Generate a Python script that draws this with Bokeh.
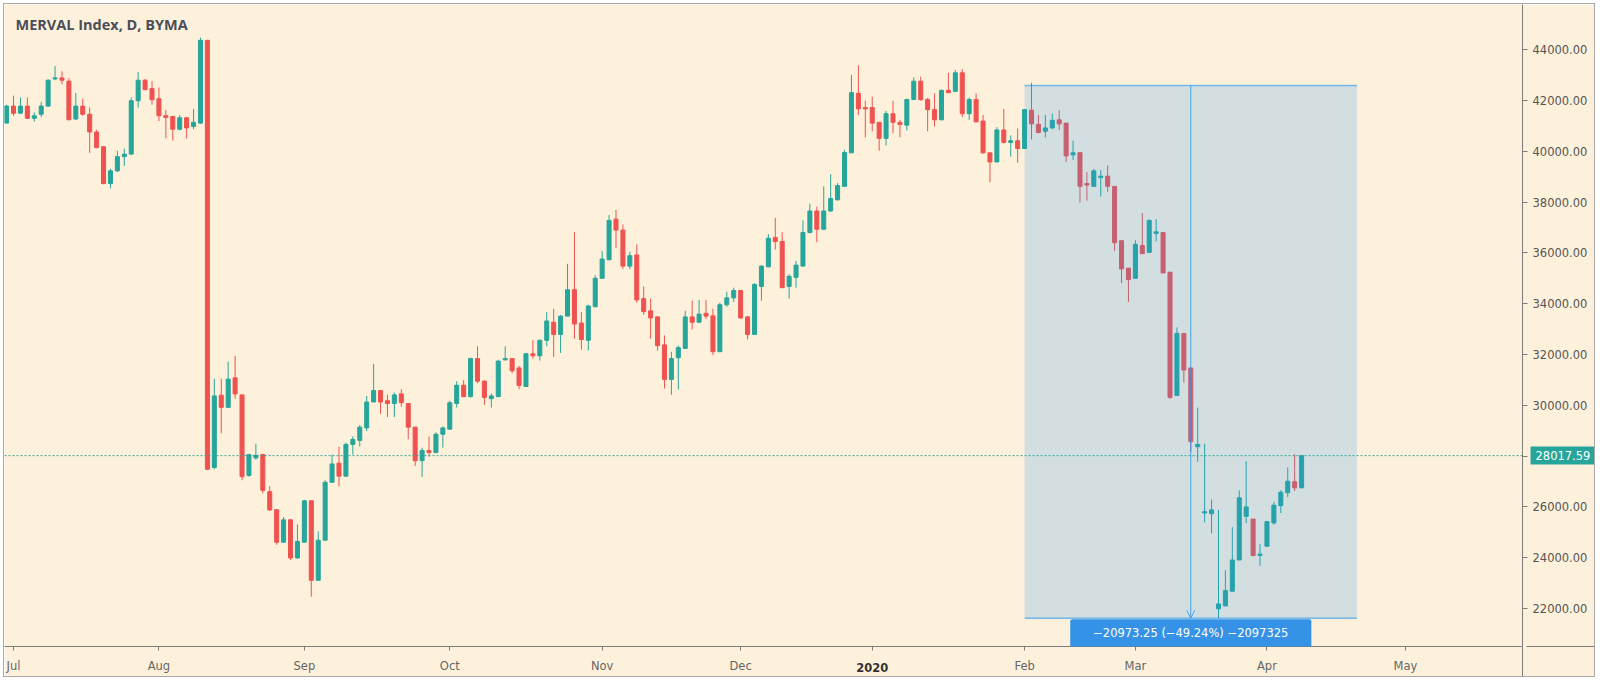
from bokeh.plotting import figure
from bokeh.models import (Range1d, FixedTicker, PrintfTickFormatter, Span, Label,
                          Arrow, OpenHead, ColumnDataSource, LinearAxis)
from bokeh.embed import file_html
from bokeh.resources import INLINE

# ---------------- data ----------------
TITLE = "MERVAL Index, D, BYMA"

opens = [41110, 41780, 41500, 41780, 41300, 41460, 41780, 42850, 42890, 42760,
         41270, 41780, 41460, 40760, 40180, 38730, 39230, 39790, 39890, 41990,
         42800, 42470, 42070, 41400, 41370, 40870, 41320, 40980, 41110, 44370,
         27550, 30400, 29920, 31080, 30410, 27240, 27930, 28060, 26600, 25890,
         24610, 25490, 23990, 24610, 26240, 23110, 24690, 26970, 27720, 27210,
         28460, 28620, 29110, 30130, 30580, 30180, 30070, 30450, 30070, 29140,
         27820, 28220, 28140, 28860, 29060, 30070, 30790, 30340, 31840, 30950,
         30260, 30340, 31790, 31840, 31470, 30740, 32030, 31950, 32560, 33270,
         32790, 33510, 34550, 33240, 32560, 33880, 35000, 35730, 37330, 36900,
         35480, 35920, 34200, 33720, 33480, 32380, 31020, 31870, 32240, 33480,
         33270, 33620, 33520, 32110, 33960, 34230, 34520, 33480, 32790, 34680,
         35450, 36610, 36450, 34680, 35040, 35480, 36800, 37650, 36930, 37650,
         38090, 38620, 39940, 42280, 41720, 41720, 41140, 40510, 41480, 41140,
         41030, 42040, 42760, 42040, 41640, 41240, 42400, 42360, 43090, 41480,
         42040, 41190, 39940, 39580, 40840, 40350, 40420, 40110, 41620, 41060,
         40790, 40920, 41240, 41110, 39860, 39950, 38730, 38620, 38970, 39020,
         38620, 36480, 35400, 35000, 36290, 36020, 36770, 36800, 35240, 30390,
         32830, 31470, 28370, 25760, 25730, 21990, 22100, 22680, 23910, 25630,
         25520, 24090, 24450, 25370, 26050, 26560, 26990, 26750]
highs = [41830, 42190, 42120, 42120, 41530, 41950, 42830, 43360, 43150, 42880,
         42300, 42070, 41720, 40850, 40180, 39310, 40020, 40110, 42120, 43120,
         42850, 42760, 42520, 41620, 41400, 41430, 41350, 41670, 44480, 44370,
         31050, 31050, 31720, 31950, 30410, 28090, 28490, 28090, 26810, 25890,
         25600, 25520, 25310, 26280, 26240, 25040, 27050, 28060, 28370, 28530,
         28780, 29220, 30370, 31630, 30580, 30420, 30500, 30630, 30070, 29140,
         28330, 28770, 28940, 29170, 30180, 30950, 30990, 31870, 32320, 30990,
         30460, 31790, 32320, 31840, 31550, 32060, 32560, 32590, 33670, 33800,
         33560, 35570, 36820, 33670, 33960, 35120, 36080, 37490, 37690, 37120,
         36050, 36340, 34680, 34200, 33510, 32750, 32110, 32350, 33720, 34120,
         34150, 34150, 33800, 34040, 34470, 34630, 34520, 33520, 34810, 35520,
         36740, 37380, 36820, 35160, 35690, 37280, 37940, 37820, 38620, 39100,
         38750, 40060, 43010, 43390, 41990, 42150, 41140, 41590, 41990, 41240,
         42070, 42910, 42940, 42100, 42280, 42430, 43090, 43200, 43230, 42120,
         42280, 41430, 39940, 40950, 41670, 40630, 40900, 41670, 42700, 41430,
         41430, 41480, 41620, 41110, 40420, 39950, 39180, 39310, 39260, 39450,
         38620, 36480, 35400, 36500, 37570, 37330, 37330, 36800, 35240, 33070,
         32830, 31470, 29910, 28490, 26290, 25880, 23510, 25200, 26650, 27800,
         25520, 24530, 25450, 26190, 26650, 27560, 28070, 28017.59]
lows = [41100, 41400, 41490, 41270, 41170, 41350, 41750, 42800, 42640, 41240,
        41240, 41400, 39940, 40110, 38700, 38540, 39180, 39420, 39860, 41720,
        42400, 41830, 41190, 40510, 40420, 40820, 40500, 40870, 41080, 27450,
        27480, 28900, 29920, 30260, 27050, 27190, 27850, 26530, 25840, 24510,
        24600, 23910, 23960, 24610, 22470, 23110, 24690, 26970, 26810, 27210,
        28060, 28380, 28980, 30130, 29670, 29540, 29540, 29940, 28660, 27610,
        27180, 27980, 28140, 28330, 29060, 29910, 30340, 30310, 30870, 30020,
        29910, 30340, 31760, 31260, 30630, 30740, 31840, 31760, 32320, 31900,
        32060, 33510, 32620, 32190, 32160, 33880, 35000, 35730, 36180, 35360,
        35360, 34040, 33560, 32620, 32160, 30660, 30420, 30620, 32240, 32990,
        33270, 33400, 31980, 32110, 33880, 34070, 33400, 32590, 32790, 34120,
        35450, 36130, 34630, 34200, 34630, 35480, 36770, 36420, 36930, 37610,
        38060, 38620, 39940, 41430, 40550, 40790, 40020, 40230, 40710, 40550,
        40820, 42030, 41990, 40790, 40980, 41240, 42310, 42360, 41350, 41240,
        41140, 39900, 38780, 39580, 40310, 39790, 39550, 40110, 40470, 40710,
        40550, 40870, 40840, 39580, 39660, 37980, 38060, 38620, 38220, 38410,
        36080, 34810, 34070, 35000, 35970, 36020, 36450, 35210, 30260, 30390,
        30900, 28170, 27770, 25390, 24960, 21620, 22100, 22680, 23910, 25360,
        24080, 23680, 24450, 25300, 25760, 26390, 26620, 26750]
closes = [41780, 41500, 41780, 41300, 41400, 41780, 42800, 42890, 42800, 41240,
          41780, 41460, 40760, 40150, 38730, 39230, 39790, 39890, 41990, 42800,
          42430, 42030, 41400, 41330, 40870, 41320, 40920, 41140, 44370, 27480,
          30370, 29920, 31030, 30450, 27190, 28060, 28030, 26650, 25880, 24610,
          25490, 23990, 24640, 26240, 23110, 24690, 26970, 27690, 27210, 28460,
          28660, 29140, 30130, 30580, 30130, 30070, 30410, 30100, 29140, 27820,
          28220, 28140, 28860, 29110, 30100, 30790, 30340, 31840, 30950, 30310,
          30370, 31740, 31840, 31360, 30780, 32030, 31950, 32560, 33320, 32790,
          33510, 34550, 33200, 32590, 33910, 35000, 35760, 37280, 36900, 35480,
          35890, 34150, 33690, 33440, 32350, 31020, 31840, 32270, 33480, 33270,
          33590, 33510, 32110, 33960, 34230, 34520, 33440, 32790, 34760, 35480,
          36580, 36450, 34630, 35080, 35520, 36800, 37650, 36930, 37650, 38140,
          38650, 39950, 42310, 41670, 41670, 41110, 40510, 41480, 41140, 41060,
          42040, 42760, 42030, 41640, 41240, 42400, 42310, 43090, 41480, 42040,
          41160, 39940, 39580, 40840, 40350, 40420, 40110, 41640, 41080, 40740,
          40920, 41220, 41080, 39820, 39940, 38620, 38670, 39230, 39020, 38620,
          36400, 35370, 34950, 36340, 35970, 37280, 36830, 35210, 30310, 32830,
          31390, 28570, 28460, 25810, 25880, 22180, 22710, 23910, 26360, 26000,
          24080, 24140, 25420, 26070, 26580, 27010, 26750, 28017.59]

# month ticks: bar index of the first session of each month
month_tick_bars = [1, 22, 43, 64, 86, 106, 125, 147, 163, 182, 202]
month_tick_labels = ["Jul", "Aug", "Sep", "Oct", "Nov", "Dec", "2020", "Feb", "Mar", "Apr", "May"]
year_label = "2020"
price_ticks = [22000, 24000, 26000, 28000, 30000, 32000, 34000, 36000, 38000,
               40000, 42000, 44000]
hidden_price_tick = 28000          # covered by the last-price tag
last_price = 28017.59

# measuring tool
measure_first_bar = 147
measure_last_bar = 195
measure_start_price = 42594.0
measure_change = -20973.25
measure_change_pct = -49.24

# ---------------- styling ----------------
BG = "#fef1db"
UP = "#26a69a"
DOWN = "#ef5350"
BLUE = "#2196f3"
LABEL_BLUE = "#3592e6"
AXIS_FONT = "DejaVu Sans"
AXIS_FONT_SIZE = "11.5px"
AXIS_COLOR = "#7d7d7d"
TEXT_COLOR = "#555555"
PRICE_LABEL_W = 55     # approx. pixel width of one price label such as 44000.00
LABEL_H = 13           # approx. pixel height of one axis label line
SPACE_W = 4            # approx. pixel width of a blank label
Y_AXIS_W = 65          # tick 5 + standoff 5 + label width
X_AXIS_H = 25          # tick 4 + standoff 8 + label height

W, H = 1592, 674
MR, MB = 74, 32
X0, X1 = -0.3, 218.9
Y0, Y1 = 20504, 45780
frame_w = W - MR
frame_h = H - MB
xpx = (X1 - X0) / frame_w   # data units per pixel
ypx = (Y1 - Y0) / frame_h

p = figure(width=W, height=H, x_range=Range1d(X0, X1), y_range=Range1d(Y0, Y1),
           output_backend="svg", toolbar_location=None, y_axis_location="right",
           min_border_left=0, min_border_top=0, min_border_right=MR, min_border_bottom=MB,
           background_fill_color=BG, border_fill_color=BG)
p.styles = {"margin": "3px", "border": "1px solid #a8a8a8"}
p.grid.visible = False
p.outline_line_color = None

# y axis (right)
ya = p.yaxis[0]
ya.ticker = FixedTicker(ticks=price_ticks)
ya.formatter = PrintfTickFormatter(format="%.2f")
ya.major_label_overrides = {hidden_price_tick: ""}
ya.major_label_text_font = AXIS_FONT
ya.major_label_text_font_size = AXIS_FONT_SIZE
ya.major_label_text_color = TEXT_COLOR
ya.axis_line_color = AXIS_COLOR
ya.major_tick_line_color = AXIS_COLOR
ya.major_tick_out = 5
ya.major_tick_in = 0
ya.minor_tick_line_color = None
ya.major_label_standoff = 5

# x axis (bottom)
xa = p.xaxis[0]
xa.ticker = FixedTicker(ticks=month_tick_bars)
xa.major_label_overrides = {b: ("" if lab == year_label else lab)
                            for b, lab in zip(month_tick_bars, month_tick_labels)}
xa.major_label_text_font = AXIS_FONT
xa.major_label_text_font_size = AXIS_FONT_SIZE
xa.major_label_text_color = "#666666"
xa.axis_line_color = AXIS_COLOR
xa.major_tick_line_color = AXIS_COLOR
xa.major_tick_out = 4
xa.major_tick_in = 0
xa.minor_tick_line_color = None
xa.major_label_standoff = 8

# bold year label: a second bottom axis stacked under the first one, pulled back up
year_bar = month_tick_bars[month_tick_labels.index(year_label)]
year_axis = LinearAxis(ticker=FixedTicker(ticks=[year_bar]),
                       major_label_overrides={year_bar: year_label})
year_axis.axis_line_color = None
year_axis.major_tick_line_color = None
year_axis.minor_tick_line_color = None
year_axis.major_tick_out = 0
year_axis.major_tick_in = 0
year_axis.major_label_standoff = -LABEL_H
year_axis.major_label_text_font = AXIS_FONT
year_axis.major_label_text_font_size = AXIS_FONT_SIZE
year_axis.major_label_text_font_style = "bold"
year_axis.major_label_text_color = "#333333"
p.add_layout(year_axis, "below")

# vertical price-scale border continued through the time-scale strip
CV_OUT = 12
corner_v = LinearAxis(ticker=FixedTicker(ticks=[X1 - 0.02]),
                      major_label_overrides={X1 - 0.02: " "})
corner_v.axis_line_color = None
corner_v.minor_tick_line_color = None
corner_v.major_tick_line_color = AXIS_COLOR
corner_v.major_tick_line_width = 1
corner_v.major_tick_in = X_AXIS_H + 4
corner_v.major_tick_out = CV_OUT
corner_v.major_label_standoff = -(CV_OUT + LABEL_H + 1)
corner_v.major_label_text_font = AXIS_FONT
corner_v.major_label_text_font_size = AXIS_FONT_SIZE
p.add_layout(corner_v, "below")

# last price tag: a second right axis stacked after the first one, pulled back left;
# its (thick, teal) tick is the tag box, its label the price
TAG_H = 18
TAG_RIGHT = 10
tag_axis = LinearAxis(ticker=FixedTicker(ticks=[last_price]),
                      formatter=PrintfTickFormatter(format="%.2f"))
tag_axis.axis_line_color = None
tag_axis.minor_tick_line_color = None
tag_axis.major_tick_line_color = UP
tag_axis.major_tick_line_width = TAG_H
tag_axis.major_tick_in = Y_AXIS_W - 5
tag_axis.major_tick_out = TAG_RIGHT
tag_axis.major_label_standoff = -PRICE_LABEL_W - TAG_RIGHT
tag_axis.major_label_text_font = AXIS_FONT
tag_axis.major_label_text_font_size = AXIS_FONT_SIZE
tag_axis.major_label_text_color = "white"
p.add_layout(tag_axis, "right")

# horizontal time-scale border continued under the price scale
CH_OUT = 15
corner_h = LinearAxis(ticker=FixedTicker(ticks=[Y0 + 0.02]),
                      major_label_overrides={Y0 + 0.02: " "})
corner_h.axis_line_color = None
corner_h.minor_tick_line_color = None
corner_h.major_tick_line_color = AXIS_COLOR
corner_h.major_tick_line_width = 1
corner_h.major_tick_in = Y_AXIS_W + 2
corner_h.major_tick_out = CH_OUT
corner_h.major_label_standoff = -(CH_OUT + SPACE_W + 1)
corner_h.major_label_text_font = AXIS_FONT
corner_h.major_label_text_font_size = AXIS_FONT_SIZE
p.add_layout(corner_h, "right")

# candles
bars = list(range(len(opens)))
colors = [UP if c >= o else DOWN for o, c in zip(opens, closes)]
src = ColumnDataSource(dict(
    x=bars, h=highs, l=lows,
    top=[max(o, c) for o, c in zip(opens, closes)],
    bottom=[min(o, c) for o, c in zip(opens, closes)],
    color=colors))
p.segment(x0="x", y0="h", x1="x", y1="l", line_color="color", line_width=1, source=src)
p.vbar(x="x", width=0.58, top="top", bottom="bottom", fill_color="color",
       line_color="color", line_width=1, source=src)

# last price line
p.add_layout(Span(location=last_price, dimension="width", line_color=UP,
                  line_dash="2 2", line_width=1))

# measuring box
measure_end_price = measure_start_price + measure_change
mid_bar = (measure_first_bar + measure_last_bar) / 2
p.quad(left=[measure_first_bar], right=[measure_last_bar], top=[measure_start_price],
       bottom=[measure_end_price], fill_color=BLUE, fill_alpha=0.2, line_color=None)
p.segment(x0=[measure_first_bar, measure_first_bar], x1=[measure_last_bar, measure_last_bar],
          y0=[measure_start_price, measure_end_price], y1=[measure_start_price, measure_end_price],
          line_color=BLUE, line_alpha=0.6, line_width=1.5)
p.add_layout(Arrow(end=OpenHead(size=8, line_color=BLUE, line_width=1, line_alpha=0.8),
                   x_start=mid_bar, y_start=measure_start_price,
                   x_end=mid_bar, y_end=measure_end_price,
                   line_color=BLUE, line_width=1, line_alpha=0.8))

measure_text = "\u2212{:.2f} (\u2212{:.2f}%) \u2212{}".format(
    abs(measure_change), abs(measure_change_pct), int(round(abs(measure_change) * 100)))
p.add_layout(Label(x=mid_bar, y=measure_end_price - 15 * ypx, text=measure_text,
                   text_align="center", text_baseline="middle",
                   text_font=AXIS_FONT, text_font_size=AXIS_FONT_SIZE, text_color="white",
                   background_fill_color=LABEL_BLUE,
                   padding=dict(left=23, right=23, top=7, bottom=7), border_radius=2))

# title
p.add_layout(Label(x=X0 + 11 * xpx, y=Y1 - 20 * ypx, text=TITLE, text_align="left",
                   text_baseline="middle", text_font="Open Sans",
                   text_font_size="14.5px", text_font_style="bold", text_color="#4b4e58"))

open("out.html", "w").write(file_html(p, INLINE))
